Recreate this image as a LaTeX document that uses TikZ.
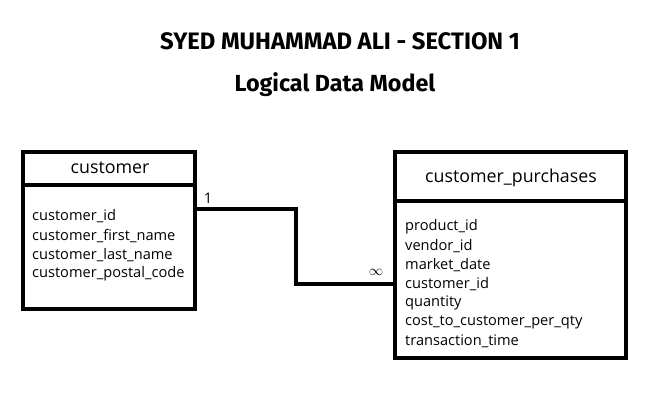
\documentclass[tikz,border=0pt]{standalone}
\usepackage{fontspec}
\setmainfont{Open Sans}
\newfontfamily\titlefont{Fira Sans}
\begin{document}
\begin{tikzpicture}[x=1pt,y=-1pt,
  box/.style={draw=black,line width=3.5pt},
  conn/.style={draw=black,line width=3.5pt},
  attr/.style={anchor=west,inner sep=0pt,font=\fontsize{14.6}{16}\selectfont},
  hdr/.style={inner sep=0pt,font=\fontsize{17.8}{20}\selectfont},
  ttl/.style={inner sep=0pt,font=\titlefont\bfseries\fontsize{23.8}{28}\selectfont}]
\useasboundingbox (0,0) rectangle (654,412);
\fill[white] (0,0) rectangle (654,412);
\node[ttl] (title) at (340,41) {SYED MUHAMMAD ALI - SECTION 1};
\node[ttl,font=\titlefont\bfseries\fontsize{23.3}{28}\selectfont] (sub) at (335,85) {Logical Data Model};
% customer
\draw[box] (23,152) rectangle (195,309);
\draw[box] (23,185) -- (195,185);
\node[hdr] (ch) at (110,168) {customer};
\node[attr] (c1) at (32,216) {customer\_id};
\node[attr] (c2) at (32,236) {customer\_first\_name};
\node[attr] (c3) at (32,255) {customer\_last\_name};
\node[attr] (c4) at (32,274) {customer\_postal\_code};
\coordinate (ca) at (195,209);
% purchases
\draw[box] (395,152) rectangle (626,358);
\draw[box] (395,201) -- (626,201);
\node[hdr] (ph) at (511,178) {customer\_purchases};
\node[attr] (p1) at (405,227) {product\_id};
\node[attr] (p2) at (405,246) {vendor\_id};
\node[attr] (p3) at (405,265) {market\_date};
\node[attr] (p4) at (405,284) {customer\_id};
\node[attr] (p5) at (405,303) {quantity};
\node[attr] (p6) at (405,322) {cost\_to\_customer\_per\_qty};
\node[attr] (p7) at (405,341) {transaction\_time};
\coordinate (pa) at (395,284);
% connector
\draw[conn] (ca) -- (296,209) -- (296,284) -- (pa);
\node[inner sep=0pt,font=\fontsize{14.6}{16}\selectfont] (one) at (208,198) {1};
\node[inner sep=0pt,font=\fontsize{15}{16}\selectfont] (many) at (376,272) {$\infty$};
\end{tikzpicture}
\end{document}
